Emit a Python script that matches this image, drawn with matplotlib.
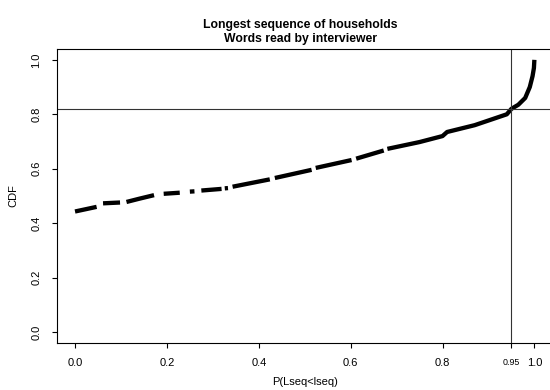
import numpy as np
import matplotlib.pyplot as plt

plt.rcParams['font.family'] = ['Liberation Sans', 'DejaVu Sans']

# runs of the empirical curve; NaN marks a gap between runs
p_values = [0.0, 0.025, 0.047, np.nan,
            0.061, 0.098, np.nan,
            0.112, 0.14, 0.172, np.nan,
            0.193, 0.228, np.nan,
            0.25, 0.26, np.nan,
            0.275, 0.319, np.nan,
            0.326, 0.333, np.nan,
            0.343, 0.424, np.nan,
            0.435, 0.515, np.nan,
            0.524, 0.602, np.nan,
            0.612, 0.672, np.nan,
            0.68, 0.75, 0.80, 0.81, 0.87, 0.94, 0.95, 0.965, 0.98, 0.99, 0.996, 0.999, 1.0]
cdf_values = [0.443, 0.452, 0.46, np.nan,
              0.473, 0.476, np.nan,
              0.478, 0.49, 0.503, np.nan,
              0.508, 0.512, np.nan,
              0.516, 0.517, np.nan,
              0.52, 0.526, np.nan,
              0.528, 0.529, np.nan,
              0.534, 0.561, np.nan,
              0.566, 0.596, np.nan,
              0.603, 0.632, np.nan,
              0.637, 0.667, np.nan,
              0.673, 0.698, 0.72, 0.735, 0.76, 0.80, 0.82, 0.835, 0.86, 0.90, 0.94, 0.97, 1.0]

cut_p = 0.95
cut_cdf = 0.82

x_ticks = [0.0, 0.2, 0.4, 0.6, 0.8, 0.95, 1.0]
x_tick_labels = ['0.0', '0.2', '0.4', '0.6', '0.8', '0.95', '1.0']
y_ticks = [0.0, 0.2, 0.4, 0.6, 0.8, 1.0]
y_tick_labels = ['0.0', '0.2', '0.4', '0.6', '0.8', '1.0']

fig = plt.figure(figsize=(5.5, 3.9), dpi=100)
ax = fig.add_axes([0.103, 0.1205, 0.902, 0.754])

ax.plot(p_values, cdf_values, color='black', linewidth=3.1, solid_capstyle='butt')

ax.axhline(cut_cdf, color='#333333', linewidth=0.8)
ax.axvline(cut_p, color='#333333', linewidth=0.8)

ax.set_xlim(-0.04, 1.04)
ax.set_ylim(-0.04, 1.04)

ax.set_xticks(x_ticks)
ax.set_xticklabels(x_tick_labels, fontsize=8)
ax.get_xticklabels()[5].set_fontsize(6.4)
ax.set_yticks(y_ticks)
ax.set_yticklabels(y_tick_labels, fontsize=8, rotation=90, va='center')
ax.tick_params(direction='out', length=3.6, width=0.8, pad=7.5)

for side in ax.spines.values():
    side.set_linewidth(0.8)
    side.set_color('black')

ax.set_title('Longest sequence of households\nWords read by interviewer',
             fontsize=8.8, fontweight='bold', pad=5, x=0.492)
ax.set_xlabel('P(Lseq<lseq)', fontsize=8, labelpad=6)
ax.set_ylabel('CDF', fontsize=8, labelpad=9)

fig.savefig('out.png', dpi=100)
